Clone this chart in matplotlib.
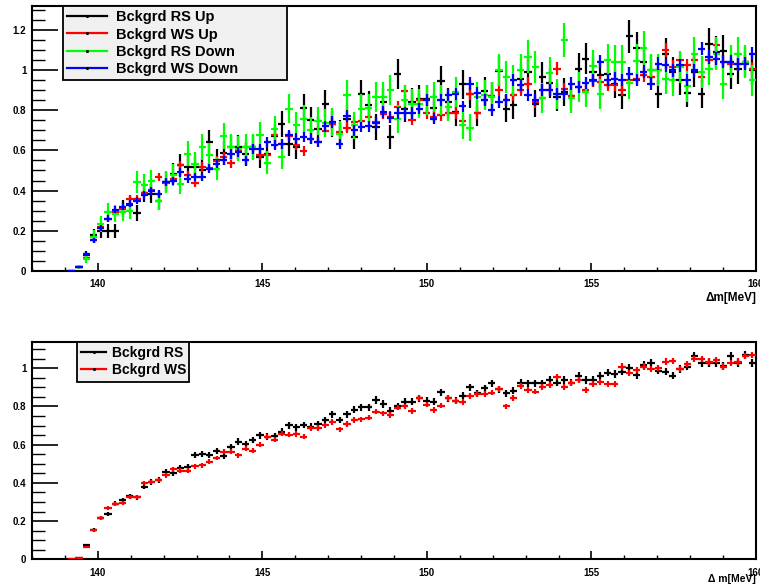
import numpy as np
import matplotlib
matplotlib.use("Agg")
import matplotlib.pyplot as plt
from matplotlib.lines import Line2D
from matplotlib.ticker import MultipleLocator

plt.rcParams["font.family"] = ["Liberation Sans", "DejaVu Sans"]
plt.rcParams["font.weight"] = "bold"

# histogram binning: 100 bins from 138 to 160 MeV, first filled bin is #5
bin_edges = np.linspace(138, 160, 101)
centers = 0.5 * (bin_edges[:-1] + bin_edges[1:])
dm = centers[5:]
half_width = 0.11

# top pad: four background samples
rs_up = [0.0, 0.02, 0.078, 0.177, 0.20, 0.20, 0.20, 0.31, 0.33, 0.29, 0.39, 0.385, 0.35,
         0.443, 0.484, 0.526, 0.517, 0.517, 0.504, 0.642, 0.55, 0.587, 0.617, 0.617, 0.58,
         0.617, 0.567, 0.584, 0.67, 0.733, 0.633, 0.617, 0.811, 0.75, 0.708, 0.832, 0.733,
         0.687, 0.758, 0.667, 0.882, 0.828, 0.716,
         0.84, 0.667, 0.978, 0.808, 0.84, 0.857, 0.857, 0.813, 0.945, 0.84, 0.79, 0.929,
         0.882, 0.786, 0.896, 0.869, 0.995, 0.808, 0.824, 0.957, 0.99, 0.833, 0.965, 0.935,
         0.866, 0.89, 0.869, 1.007, 1.056, 0.99, 0.973, 0.978, 0.932, 0.874, 1.167, 1.111,
         1.04, 0.998, 0.882, 1.081, 0.99, 0.949, 0.886, 0.99, 0.879, 1.128, 1.09, 1.095,
         0.982, 1.007, 1.04, 0.998]
ws_up = [0.0, 0.02, 0.066, 0.153, 0.22, 0.26, 0.294, 0.31, 0.36, 0.36, 0.388, 0.405, 0.468,
         0.438, 0.46, 0.526, 0.476, 0.438, 0.517, 0.514, 0.547, 0.567, 0.537, 0.60, 0.617,
         0.617, 0.575, 0.575, 0.675, 0.633, 0.672, 0.625, 0.597, 0.658, 0.642, 0.695, 0.733,
         0.69, 0.713, 0.74, 0.746, 0.766, 0.74,
         0.783, 0.766, 0.816, 0.896, 0.753, 0.852, 0.786, 0.766, 0.775, 0.786, 0.786, 0.746,
         0.882, 0.786, 0.852, 0.869, 0.899, 0.852, 0.874, 0.899, 0.932, 0.84, 0.861, 0.899,
         1.007, 0.907, 0.869, 0.915, 0.899, 0.945, 0.94, 0.924, 0.924, 0.902, 0.949, 0.957,
         0.973, 0.965, 0.998, 1.098, 1.015, 1.048, 1.023, 1.048, 0.965, 1.051, 1.123, 1.04,
         1.031, 1.028, 1.04, 1.007]
rs_down = [0.0, 0.02, 0.06, 0.17, 0.235, 0.294, 0.285, 0.294, 0.30, 0.443, 0.43, 0.45, 0.35,
           0.443, 0.476, 0.434, 0.584, 0.534, 0.617, 0.575, 0.509, 0.67, 0.617, 0.609, 0.617,
           0.617, 0.675, 0.539, 0.706, 0.567, 0.808, 0.725, 0.758, 0.70, 0.745, 0.736, 0.741,
           0.68, 0.874, 0.725, 0.808, 0.81, 0.866,
           0.866, 0.9, 0.758, 0.85, 0.833, 0.833, 0.85, 0.866, 0.85, 0.816, 0.89, 0.725,
           0.713, 0.866, 0.874, 0.866, 0.998, 0.965, 0.949, 0.998, 1.065, 1.015, 0.861, 0.985,
           0.882, 1.148, 0.862, 0.915, 0.89, 1.018, 0.879, 1.048, 1.04, 1.04, 0.935, 1.045,
           1.111, 0.998, 0.998, 0.957, 0.949, 1.015, 0.919, 1.081, 0.99, 1.007, 1.081, 0.932,
           1.04, 1.081, 1.04, 0.949]
ws_down = [0.0, 0.02, 0.083, 0.153, 0.216, 0.26, 0.305, 0.32, 0.335, 0.35, 0.376, 0.40, 0.385,
           0.443, 0.448, 0.49, 0.46, 0.468, 0.468, 0.509, 0.534, 0.55, 0.58, 0.592, 0.55,
           0.609, 0.609, 0.642, 0.625, 0.633, 0.675, 0.658, 0.667, 0.658, 0.642, 0.72, 0.741,
           0.633, 0.769, 0.70, 0.716, 0.72, 0.736,
           0.79, 0.763, 0.786, 0.786, 0.786, 0.808, 0.852, 0.758, 0.852, 0.874, 0.882, 0.819,
           0.932, 0.886, 0.852, 0.80, 0.84, 0.852, 0.949, 0.924, 0.874, 0.852, 0.899, 0.899,
           0.882, 0.882, 0.932, 0.915, 0.935, 0.949, 1.04, 0.949, 0.957, 0.949, 0.982, 0.949,
           0.99, 0.932, 1.031, 1.023, 0.998, 1.023, 0.949, 0.998, 1.106, 1.065, 1.056, 1.04,
           1.04, 1.028, 1.031, 1.081]

# bottom pad: combined samples
rs_all = [0.0, 0.005, 0.073, 0.152, 0.215, 0.236, 0.29, 0.31, 0.33, 0.326, 0.38, 0.405, 0.414,
          0.459, 0.45, 0.48, 0.483, 0.546, 0.552, 0.546, 0.569, 0.543, 0.586, 0.616, 0.602,
          0.623, 0.649, 0.642, 0.646, 0.668, 0.702, 0.69, 0.703, 0.695, 0.707, 0.729, 0.759,
          0.729, 0.759, 0.782, 0.796, 0.796, 0.834,
          0.813, 0.777, 0.80, 0.825, 0.825, 0.843, 0.829, 0.825, 0.874, 0.843, 0.829, 0.857,
          0.90, 0.869, 0.895, 0.921, 0.89, 0.869, 0.883, 0.925, 0.921, 0.921, 0.921, 0.939,
          0.925, 0.939, 0.925, 0.962, 0.939, 0.939, 0.962, 0.977, 0.969, 0.983, 1.0, 0.965,
          1.017, 1.026, 0.988, 0.983, 0.962, 0.997, 1.009, 1.065, 1.026, 1.026, 1.026, 1.012,
          1.065, 1.026, 1.07, 1.026]
ws_all = [0.0, 0.005, 0.065, 0.152, 0.215, 0.267, 0.29, 0.297, 0.328, 0.326, 0.40, 0.405, 0.414,
          0.44, 0.471, 0.464, 0.464, 0.487, 0.492, 0.511, 0.53, 0.562, 0.562, 0.545, 0.578,
          0.569, 0.599, 0.642, 0.625, 0.658, 0.653, 0.656, 0.642, 0.686, 0.688, 0.702, 0.719,
          0.681, 0.709, 0.729, 0.733, 0.742, 0.773,
          0.764, 0.754, 0.794, 0.80, 0.777, 0.843, 0.81, 0.782, 0.805, 0.843, 0.829, 0.822,
          0.853, 0.864, 0.864, 0.873, 0.89, 0.80, 0.846, 0.907, 0.887, 0.878, 0.90, 0.913,
          0.956, 0.90, 0.925, 0.939, 0.887, 0.918, 0.928, 0.918, 0.918, 1.009, 0.974, 0.991,
          1.009, 0.995, 1.0, 1.035, 1.04, 0.997, 1.021, 1.047, 1.047, 1.035, 1.044, 1.009,
          1.026, 1.035, 1.065, 1.07]

top_series = [("Bckgrd RS Up", rs_up, "black", 0.075),
              ("Bckgrd WS Up", ws_up, "#ff0000", 0.032),
              ("Bckgrd RS Down", rs_down, "#00ff00", 0.08),
              ("Bckgrd WS Down", ws_down, "#0000ff", 0.032)]
bottom_series = [("Bckgrd RS", rs_all, "black", 0.016),
                 ("Bckgrd WS", ws_all, "#ff0000", 0.012)]

fig = plt.figure(figsize=(7.6, 5.86), dpi=100)
ax1 = fig.add_axes([32 / 760, 1 - 271 / 586, 724 / 760, 265 / 586])
ax2 = fig.add_axes([32 / 760, 1 - 559.3 / 586, 724 / 760, 217.6 / 586])


def style_axes(ax, ymax):
    ax.set_xlim(138, 160)
    ax.set_ylim(0, ymax)
    ax.xaxis.set_major_locator(MultipleLocator(5))
    ax.xaxis.set_minor_locator(MultipleLocator(1))
    ax.yaxis.set_major_locator(MultipleLocator(0.2))
    ax.yaxis.set_minor_locator(MultipleLocator(0.05))
    ax.yaxis.set_major_formatter(plt.FuncFormatter(lambda v, p: "%g" % round(v, 2)))
    ax.tick_params(axis="x", which="major", direction="in", length=6, width=1.2,
                   labelsize=7, pad=6)
    ax.tick_params(axis="x", which="minor", direction="in", length=3, width=1.0)
    ax.tick_params(axis="y", which="major", direction="in", length=18.5, width=1.2,
                   labelsize=7, pad=4)
    ax.tick_params(axis="y", which="minor", direction="in", length=9.5, width=1.0)
    for lab in ax.get_xticklabels() + ax.get_yticklabels():
        lab.set_fontweight("bold")
    for s in ax.spines.values():
        s.set_linewidth(1.5)


for i, (name, vals, col, k) in enumerate(top_series):
    v = np.array(vals)
    ax1.errorbar(dm, v, xerr=half_width, yerr=k * np.sqrt(v), fmt="none",
                 ecolor=col, elinewidth=1.6, capsize=0, zorder=2 + i)
style_axes(ax1, 1.318)
ax1.text(1.0, -0.1, "\u0394m[MeV]", transform=ax1.transAxes, ha="right", va="center",
         fontsize=8.5, fontweight="bold")

for i, (name, vals, col, k) in enumerate(bottom_series):
    v = np.array(vals)
    ax2.errorbar(dm, v, xerr=half_width, yerr=k * np.sqrt(v) + 0.004, fmt="none",
                 ecolor=col, elinewidth=1.6, capsize=0, zorder=2 + i)
style_axes(ax2, 1.139)
ax2.text(1.0, -0.09, "\u0394 m[MeV]", transform=ax2.transAxes, ha="right", va="center",
         fontsize=7.5, fontweight="bold")


def make_handles(series):
    return [Line2D([], [], color=c, lw=1.6, marker=".", markersize=2.5,
                   markerfacecolor="black", markeredgecolor="black")
            for _, _, c, _ in series]


leg1 = ax1.legend(make_handles(top_series), [s[0] for s in top_series],
                  loc="upper left", bbox_to_anchor=(31 / 724, 0, 224 / 724, 1.0),
                  mode="expand", borderaxespad=0, fancybox=False, framealpha=1,
                  facecolor="#f0f0f0", edgecolor="black", handlelength=2.7,
                  handletextpad=0.6, labelspacing=0.22, borderpad=0.3,
                  prop={"weight": "bold", "size": 10.5})
leg1.get_frame().set_linewidth(1.3)

leg2 = ax2.legend(make_handles(bottom_series), [s[0] for s in bottom_series],
                  loc="upper left", bbox_to_anchor=(45 / 724, 0, 112 / 724, 1.0),
                  mode="expand", borderaxespad=0, fancybox=False, framealpha=1,
                  facecolor="#f0f0f0", edgecolor="black", handlelength=1.8,
                  handletextpad=0.4, labelspacing=0.25, borderpad=0.3,
                  prop={"weight": "bold", "size": 10})
leg2.get_frame().set_linewidth(1.3)

fig.savefig("out.png", dpi=100)
